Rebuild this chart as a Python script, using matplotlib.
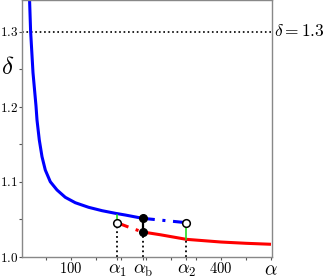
import numpy as np
import matplotlib
matplotlib.use("Agg")
import matplotlib.pyplot as plt

plt.rcParams['mathtext.fontset'] = 'cm'
plt.rcParams['font.family'] = 'DejaVu Serif'

# upper branch (blue)
blue_a = [17.2, 19.2, 24, 30, 32, 36.6, 42, 48.6, 58.6, 72, 88.6, 108.6, 135.2, 162, 188.6, 208.6, 243.2]
blue_d = [1.3407, 1.3007, 1.245, 1.2007, 1.182, 1.1553, 1.1331, 1.1153, 1.0997, 1.0887, 1.0789, 1.0717, 1.0656, 1.0611, 1.0576, 1.0553, 1.0509]
# blue dash-dot continuation up to alpha_2
blue2_a = [243.2, 290, 330.6]
blue2_d = [1.0509, 1.0478, 1.0451]
# lower branch (red)
red1_a = [192, 218, 243.2]
red1_d = [1.0451, 1.0385, 1.0327]
red_a = [243.2, 278.6, 330.6, 400, 450, 500]
red_d = [1.0327, 1.029, 1.0229, 1.0193, 1.0176, 1.0163]

a1, ab, a2 = 192, 243.2, 330.6
d_a1_open, d_a1_blue = 1.0451, 1.0549
d_ab_up, d_ab_low = 1.0509, 1.0327
d_a2_open, d_a2_red = 1.0451, 1.0229
d_line = 1.3

xticks = [100, a1, ab, a2, 400, 500]
xlabels = ['$100$', r'$\alpha_1$', r'$\alpha_{\rm b}$', r'$\alpha_2$', '$400$', r'$\alpha$']
yticks = [1.0, 1.1, 1.2, 1.3]
ylabels = ['$1.0$', '$1.1$', '$1.2$', '$1.3$']

fig = plt.figure(figsize=(3.32, 2.78), dpi=100)
ax = fig.add_axes([22/332, 21.5/278, 250/332, 256.5/278])

ax.axhline(d_line, color='k', ls=':', lw=1.2)

ax.plot(blue_a, blue_d, color='#0000ff', lw=2.2, solid_capstyle='butt')
ax.plot(blue2_a, blue2_d, color='#0000ff', lw=2.2, ls=(0, (4, 2.5, 1, 2.5)))
ax.plot(red1_a, red1_d, color='#ff0000', lw=2.2, ls=(0, (4, 2.5, 1, 2.5)))
ax.plot(red_a, red_d, color='#ff0000', lw=2.2, solid_capstyle='butt')

# green connectors
ax.plot([a1, a1], [d_a1_open, d_a1_blue], color='#22dd22', lw=1.2)
ax.plot([a2, a2], [d_a2_red, d_a2_open], color='#22dd22', lw=1.2)
# black jump at alpha_b
ax.plot([ab, ab], [d_ab_low, d_ab_up], color='k', lw=1.6)

# dotted drop lines
ax.plot([a1, a1], [1.0, d_a1_open], color='k', ls=':', lw=1.3)
ax.plot([ab, ab], [1.0, d_ab_low], color='k', ls=':', lw=1.3)
ax.plot([a2, a2], [1.0, d_a2_red], color='k', ls=':', lw=1.3)

ax.plot([ab, ab], [d_ab_up, d_ab_low], 'o', color='k', ms=5.5, zorder=5)
ax.plot([a1, a2], [d_a1_open, d_a2_open], 'o', mfc='white', mec='k', mew=1.1, ms=5.5, zorder=5)

ax.set_xlim(2, 502)
ax.set_ylim(1.0, 1.342)

ax.set_xticks(xticks)
ax.set_xticklabels(xlabels)
ax.set_xticks(np.arange(50, 500, 50), minor=True)
ax.set_yticks(yticks)
ax.set_yticklabels(ylabels)
ax.set_yticks([1.05, 1.15, 1.25], minor=True)

ax.tick_params(which='both', direction='out', length=2.5, width=0.8, color='#555555', pad=1)
ax.tick_params(axis='y', labelsize=9.5, pad=0.5)
ax.tick_params(axis='x', labelsize=10.5, pad=1)
for lab in ax.get_xticklabels():
    if 'alpha' in lab.get_text():
        lab.set_fontsize(13)
ax.get_xticklabels()[-1].set_fontsize(14)

for s in ax.spines.values():
    s.set_color('#888888')
    s.set_linewidth(1.0)

fig.text(8/332, 1 - 67/278, r'$\delta$', fontsize=18, ha='center', va='center')
fig.text(274/332, 1 - 31/278, r'$\delta = 1.3$', fontsize=12.5, ha='left', va='center')

fig.savefig('out.png', dpi=100)
